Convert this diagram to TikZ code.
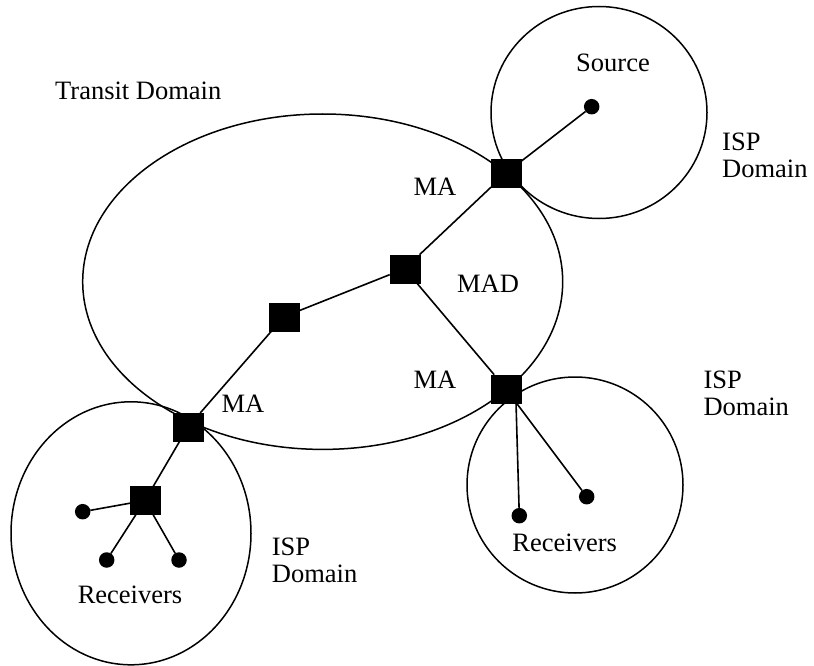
\documentclass[tikz,border=0pt]{standalone}
\usepackage{fontspec}
\setmainfont{Liberation Serif}
\begin{document}
\begin{tikzpicture}[x=1pt,y=-1pt,
  ma/.style={draw=black,fill=black,minimum width=30pt,minimum height=28pt,inner sep=0pt,outer sep=0pt},
  host/.style={circle,fill=black,minimum size=15.5pt,inner sep=0pt,outer sep=0pt},
  link/.style={line width=1.6pt},
  region/.style={line width=1.5pt},
  lbl/.style={inner sep=0pt,anchor=base,font=\fontsize{26.5}{27}\selectfont},
  lbll/.style={inner sep=0pt,anchor=base west,align=left,font=\fontsize{26.5}{27}\selectfont}]
\useasboundingbox (0,0) rectangle (814,666);
% domains
\draw[region] (322.7,281.7) ellipse [x radius=240, y radius=167.7];
\draw[region] (599,112.5) ellipse [x radius=108, y radius=106];
\draw[region] (575,485) circle [radius=108];
\draw[region] (131,533.3) ellipse [x radius=120, y radius=131.5];
% hosts
\node[host] (S) at (591.7,106.7) {};
\node[host] (R1) at (519.3,515.7) {};
\node[host] (R2) at (586.7,496.7) {};
\node[host] (L1) at (82.7,511.7) {};
\node[host] (L2) at (106.7,560) {};
\node[host] (L3) at (179,560) {};
% routers
\node[ma] (A) at (506,173) {};
\node[ma] (B) at (404.7,268.7) {};
\node[ma] (C) at (284,316.7) {};
\node[ma] (D) at (506,388.7) {};
\node[ma] (E) at (188,427) {};
\node[ma] (F) at (145,500.5) {};
\coordinate (Dout) at (516,402.5);
% links
\draw[link] (A) -- (S);
\draw[link] (A) -- (B);
\draw[link] (B) -- (C);
\draw[link] (C) -- (E);
\draw[link] (B) -- (D);
\draw[link] (Dout) -- (R1);
\draw[link] (Dout) -- (R2);
\draw[link] (E) -- (F);
\draw[link] (F) -- (L1);
\draw[link] (F) -- (L2);
\draw[link] (F) -- (L3);
% labels
\node[lbll] (tdl) at (55,100) {Transit Domain};
\node[lbl] (srcl) at (613,72) {Source};
\node[lbl] (ma1) at (435,196) {MA};
\node[lbl] (madl) at (488,292) {MAD};
\node[lbl] (ma2) at (435,388) {MA};
\node[lbl] (ma3) at (243,412) {MA};
\node[lbl] (rcvr) at (564.7,551.7) {Receivers};
\node[lbl] (rcvl) at (130,603) {Receivers};
\node[lbll] (isp1) at (722,177) {ISP\\Domain};
\node[lbll] (isp2) at (703.3,415) {ISP\\Domain};
\node[lbll] (isp3) at (271.7,582) {ISP\\Domain};
\end{tikzpicture}
\end{document}
